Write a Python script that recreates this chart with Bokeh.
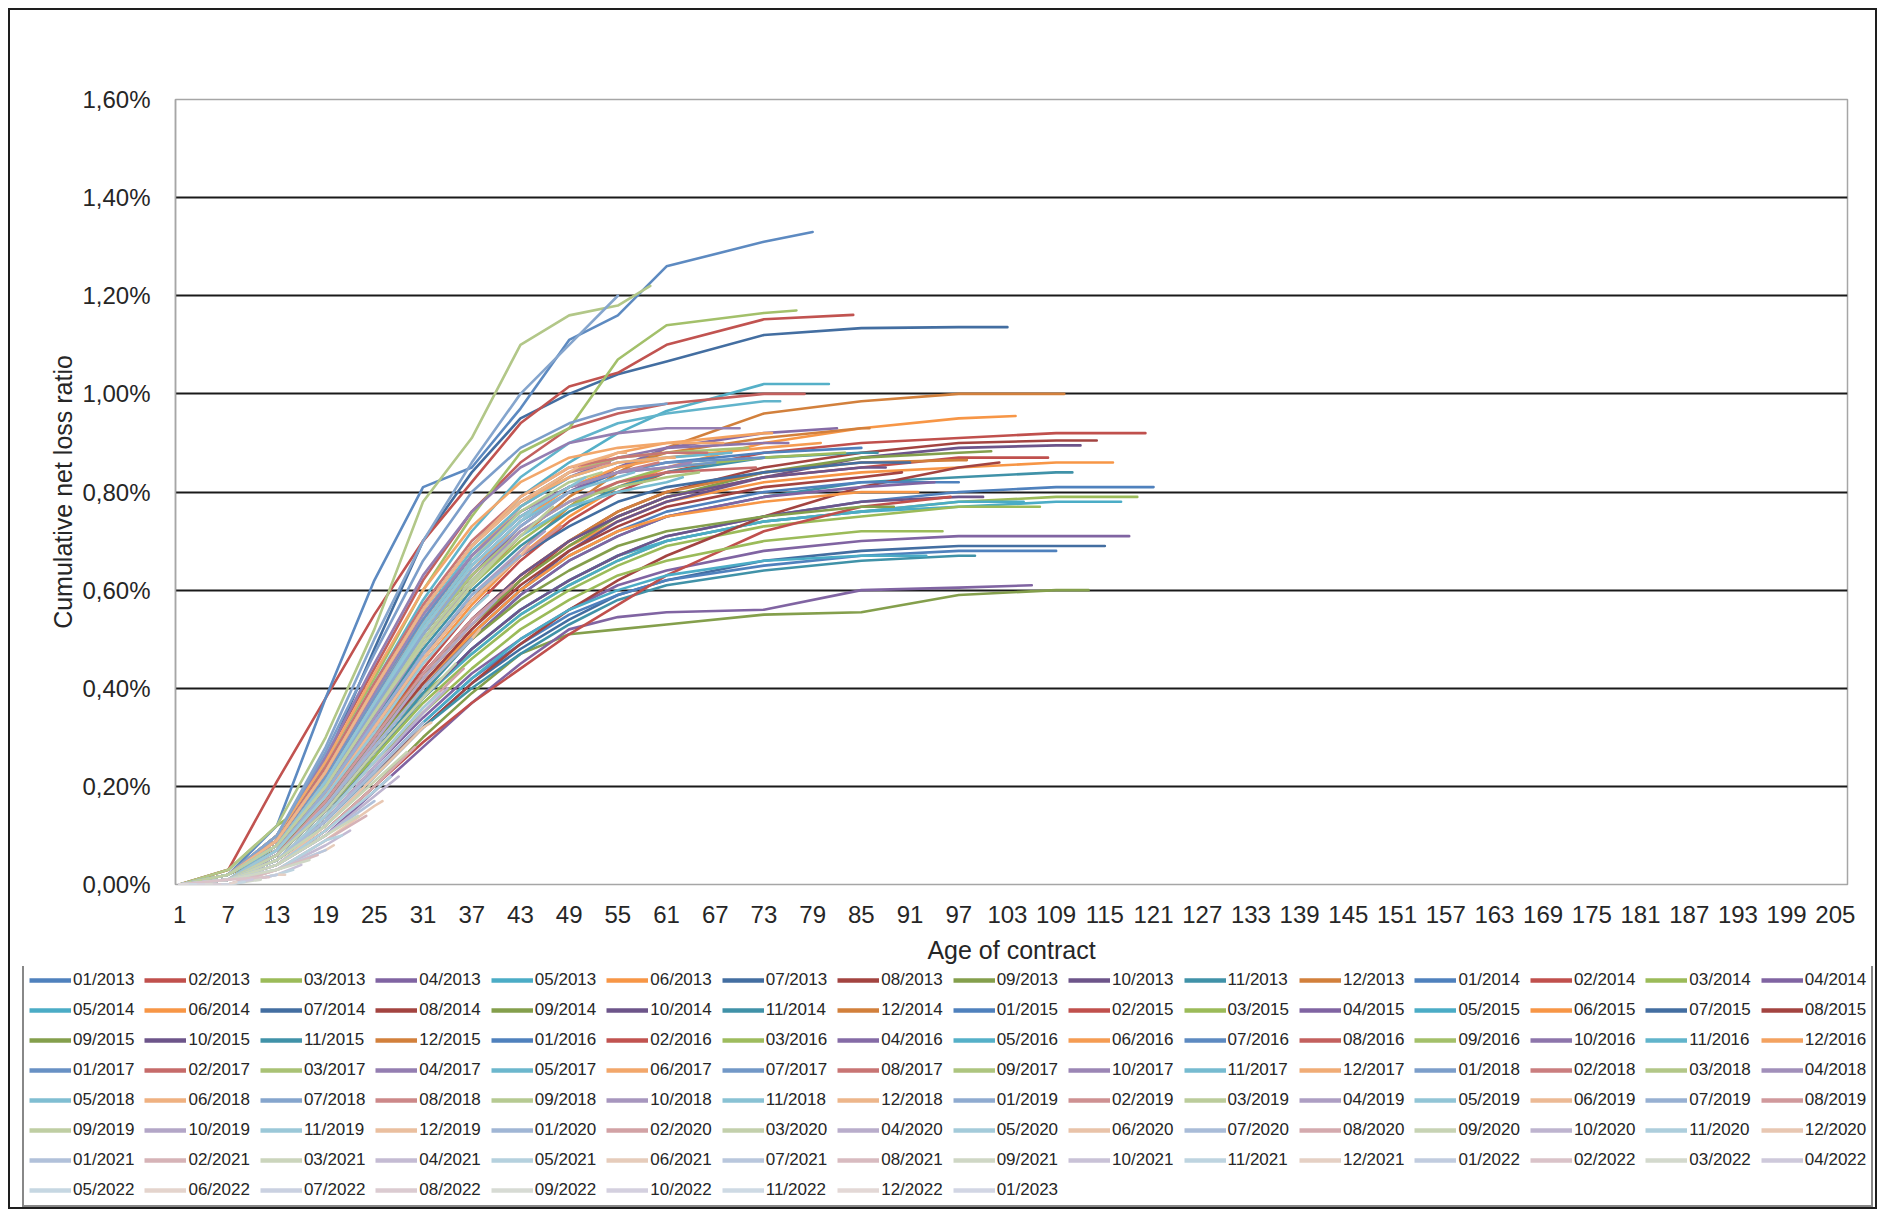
from bokeh.plotting import figure
from bokeh.layouts import column
from bokeh.models import (FixedTicker, CustomJSTickFormatter, Legend, LegendItem,
                          Range1d, ColumnDataSource)
from bokeh.embed import file_html
from bokeh.resources import INLINE

# ---------------------------------------------------------------- data
# Ages (months) at which the curves were read; every series also has a
# value at its own last observed age (oldest vintage: 121, then one less
# per later vintage).
AGE_GRID = [1, 7, 13, 19, 25, 31, 37, 43, 49, 55, 61, 73, 85, 97, 109]
OLDEST_LAST_AGE = 121
X_TICKS = list(range(1, 206, 6))
Y_TICKS = [0.0, 0.2, 0.4, 0.6, 0.8, 1.0, 1.2, 1.4, 1.6]
Y_GRID = [0.0, 0.2, 0.4, 0.6, 0.8, 1.0, 1.2, 1.4]
X_TITLE = "Age of contract"
Y_TITLE = "Cumulative net loss ratio"

# cumulative net loss ratio in %, one row per vintage month
V2013 = [
    [0, 0.01, 0.05, 0.14, 0.26, 0.38, 0.48, 0.56, 0.62, 0.67, 0.71, 0.75, 0.78, 0.80, 0.81, 0.81],
    [0, 0.02, 0.08, 0.18, 0.31, 0.44, 0.56, 0.66, 0.74, 0.80, 0.84, 0.88, 0.90, 0.91, 0.92, 0.92],
    [0, 0.03, 0.12, 0.19, 0.29, 0.39, 0.47, 0.55, 0.61, 0.66, 0.70, 0.74, 0.76, 0.78, 0.79, 0.79],
    [0, 0.01, 0.05, 0.13, 0.24, 0.34, 0.43, 0.50, 0.56, 0.61, 0.64, 0.68, 0.70, 0.71, 0.71, 0.71],
    [0, 0.01, 0.06, 0.15, 0.27, 0.38, 0.47, 0.55, 0.61, 0.66, 0.70, 0.74, 0.76, 0.77, 0.78, 0.78],
    [0, 0.02, 0.07, 0.17, 0.30, 0.42, 0.53, 0.62, 0.69, 0.74, 0.78, 0.82, 0.84, 0.85, 0.86, 0.86],
    [0, 0.01, 0.05, 0.12, 0.22, 0.32, 0.41, 0.48, 0.54, 0.59, 0.62, 0.66, 0.68, 0.69, 0.69, 0.69],
    [0, 0.02, 0.07, 0.17, 0.29, 0.41, 0.52, 0.62, 0.70, 0.76, 0.80, 0.85, 0.88, 0.90, 0.905, 0.905],
    [0, 0.01, 0.04, 0.11, 0.20, 0.30, 0.39, 0.47, 0.51, 0.52, 0.53, 0.55, 0.555, 0.59, 0.60, 0.60],
    [0, 0.01, 0.06, 0.16, 0.28, 0.40, 0.51, 0.60, 0.68, 0.74, 0.78, 0.83, 0.87, 0.89, 0.895, 0.895],
    [0, 0.01, 0.06, 0.15, 0.27, 0.39, 0.50, 0.59, 0.66, 0.71, 0.75, 0.79, 0.82, 0.83, 0.84, 0.84],
    [0, 0.02, 0.08, 0.19, 0.33, 0.46, 0.58, 0.68, 0.77, 0.84, 0.89, 0.96, 0.985, 1.00, 1.00, 1.00],
]
V2014 = [
    [0, 0.01, 0.05, 0.13, 0.23, 0.33, 0.42, 0.49, 0.55, 0.59, 0.62, 0.65, 0.67, 0.68, 0.68],
    [0, 0.02, 0.08, 0.19, 0.31, 0.43, 0.54, 0.63, 0.70, 0.75, 0.79, 0.83, 0.85, 0.87, 0.87],
    [0, 0.01, 0.06, 0.15, 0.26, 0.37, 0.46, 0.54, 0.60, 0.65, 0.69, 0.73, 0.75, 0.77, 0.77],
    [0, 0.01, 0.04, 0.10, 0.19, 0.28, 0.37, 0.45, 0.52, 0.545, 0.555, 0.56, 0.60, 0.605, 0.61],
    [0, 0.01, 0.06, 0.15, 0.27, 0.38, 0.48, 0.56, 0.62, 0.67, 0.70, 0.74, 0.76, 0.78, 0.78],
    [0, 0.02, 0.08, 0.19, 0.32, 0.45, 0.57, 0.67, 0.75, 0.81, 0.85, 0.90, 0.93, 0.95, 0.955],
    [0, 0.02, 0.09, 0.25, 0.48, 0.70, 0.84, 0.95, 1.00, 1.04, 1.066, 1.12, 1.134, 1.136, 1.136],
    [0, 0.01, 0.05, 0.13, 0.23, 0.32, 0.41, 0.49, 0.56, 0.62, 0.67, 0.75, 0.81, 0.85, 0.86],
    [0, 0.02, 0.07, 0.17, 0.30, 0.42, 0.53, 0.62, 0.69, 0.75, 0.79, 0.84, 0.87, 0.88, 0.883],
    [0, 0.01, 0.06, 0.15, 0.27, 0.38, 0.48, 0.56, 0.62, 0.67, 0.71, 0.75, 0.78, 0.79, 0.79],
    [0, 0.01, 0.05, 0.12, 0.22, 0.32, 0.40, 0.47, 0.53, 0.58, 0.61, 0.64, 0.66, 0.67, 0.67],
    [0, 0.02, 0.07, 0.18, 0.31, 0.43, 0.54, 0.63, 0.70, 0.76, 0.80, 0.84, 0.86, 0.865, 0.865],
]
V2015 = [
    [0, 0.01, 0.06, 0.16, 0.28, 0.40, 0.51, 0.60, 0.67, 0.72, 0.76, 0.80, 0.82, 0.82],
    [0, 0.01, 0.04, 0.11, 0.20, 0.29, 0.37, 0.44, 0.51, 0.57, 0.63, 0.72, 0.77, 0.79],
    [0, 0.01, 0.05, 0.14, 0.25, 0.35, 0.44, 0.52, 0.58, 0.63, 0.66, 0.70, 0.72, 0.72],
    [0, 0.01, 0.06, 0.16, 0.28, 0.40, 0.50, 0.59, 0.66, 0.71, 0.75, 0.79, 0.81, 0.82],
    [0, 0.01, 0.05, 0.13, 0.23, 0.33, 0.42, 0.50, 0.56, 0.60, 0.63, 0.66, 0.67, 0.67],
    [0, 0.02, 0.07, 0.17, 0.29, 0.41, 0.51, 0.60, 0.67, 0.72, 0.75, 0.78, 0.80, 0.80],
    [0, 0.02, 0.08, 0.20, 0.34, 0.47, 0.58, 0.67, 0.73, 0.78, 0.81, 0.84, 0.86, 0.86],
    [0, 0.01, 0.06, 0.16, 0.29, 0.41, 0.52, 0.61, 0.68, 0.73, 0.77, 0.81, 0.83, 0.84],
    [0, 0.02, 0.07, 0.17, 0.29, 0.40, 0.50, 0.58, 0.64, 0.69, 0.72, 0.75, 0.77, 0.77],
    [0, 0.01, 0.06, 0.17, 0.30, 0.43, 0.54, 0.63, 0.70, 0.75, 0.79, 0.83, 0.85, 0.85],
    [0, 0.02, 0.08, 0.20, 0.34, 0.48, 0.60, 0.69, 0.76, 0.81, 0.84, 0.87, 0.88, 0.88],
    [0, 0.02, 0.08, 0.20, 0.35, 0.49, 0.61, 0.71, 0.79, 0.85, 0.88, 0.91, 0.93, 0.93],
]
V2016 = [
    [0, 0.02, 0.09, 0.22, 0.38, 0.53, 0.65, 0.74, 0.80, 0.84, 0.86, 0.88, 0.89],
    [0, 0.03, 0.21, 0.38, 0.55, 0.70, 0.82, 0.94, 1.015, 1.043, 1.10, 1.152, 1.161],
    [0, 0.02, 0.08, 0.20, 0.35, 0.49, 0.61, 0.70, 0.77, 0.82, 0.85, 0.87, 0.88],
    [0, 0.02, 0.08, 0.21, 0.36, 0.51, 0.63, 0.73, 0.80, 0.85, 0.89, 0.92, 0.93],
    [0, 0.02, 0.09, 0.23, 0.40, 0.56, 0.69, 0.79, 0.86, 0.92, 0.965, 1.02, 1.02],
    [0, 0.02, 0.08, 0.21, 0.37, 0.52, 0.64, 0.74, 0.81, 0.85, 0.87, 0.89, 0.90],
    [0, 0.02, 0.12, 0.38, 0.62, 0.81, 0.85, 0.97, 1.11, 1.16, 1.26, 1.31, 1.33],
    [0, 0.02, 0.10, 0.26, 0.44, 0.62, 0.76, 0.86, 0.93, 0.96, 0.98, 1.00, 1.00],
    [0, 0.02, 0.10, 0.25, 0.42, 0.60, 0.75, 0.88, 0.93, 1.07, 1.14, 1.165, 1.17],
    [0, 0.02, 0.09, 0.23, 0.39, 0.54, 0.67, 0.77, 0.83, 0.87, 0.89, 0.90, 0.90],
    [0, 0.02, 0.09, 0.24, 0.41, 0.58, 0.72, 0.83, 0.90, 0.94, 0.96, 0.985, 0.985],
    [0, 0.02, 0.09, 0.22, 0.38, 0.54, 0.67, 0.77, 0.84, 0.88, 0.90, 0.92, 0.92],
]
V2017 = [
    [0, 0.02, 0.09, 0.23, 0.39, 0.54, 0.67, 0.76, 0.81, 0.84, 0.86, 0.87],
    [0, 0.02, 0.08, 0.21, 0.36, 0.51, 0.63, 0.72, 0.78, 0.82, 0.84, 0.85],
    [0, 0.02, 0.09, 0.23, 0.40, 0.56, 0.69, 0.78, 0.84, 0.87, 0.88, 0.89],
    [0, 0.02, 0.10, 0.26, 0.45, 0.63, 0.76, 0.85, 0.90, 0.92, 0.93, 0.93],
    [0, 0.02, 0.09, 0.23, 0.39, 0.55, 0.68, 0.77, 0.83, 0.86, 0.87, 0.88],
    [0, 0.02, 0.10, 0.25, 0.43, 0.60, 0.73, 0.82, 0.87, 0.89, 0.90, 0.90],
    [0, 0.02, 0.09, 0.22, 0.38, 0.53, 0.66, 0.75, 0.81, 0.84, 0.85, 0.86],
    [0, 0.02, 0.09, 0.24, 0.41, 0.57, 0.70, 0.79, 0.85, 0.87, 0.88, 0.88],
    [0, 0.02, 0.08, 0.21, 0.36, 0.51, 0.63, 0.72, 0.78, 0.81, 0.83, 0.84],
    [0, 0.02, 0.09, 0.23, 0.39, 0.55, 0.67, 0.76, 0.81, 0.84, 0.85, 0.86],
    [0, 0.01, 0.08, 0.20, 0.35, 0.50, 0.62, 0.71, 0.77, 0.80, 0.82, 0.83],
    [0, 0.02, 0.09, 0.23, 0.40, 0.56, 0.69, 0.78, 0.83, 0.86, 0.87, 0.87],
]
V2018 = [
    [0, 0.02, 0.10, 0.27, 0.47, 0.66, 0.80, 0.89, 0.94, 0.97, 0.98],
    [0, 0.02, 0.08, 0.21, 0.37, 0.53, 0.66, 0.75, 0.81, 0.84, 0.86],
    [0, 0.03, 0.12, 0.30, 0.52, 0.78, 0.91, 1.10, 1.16, 1.18, 1.22],
    [0, 0.02, 0.08, 0.21, 0.37, 0.53, 0.66, 0.75, 0.81, 0.84, 0.85],
    [0, 0.02, 0.08, 0.21, 0.36, 0.52, 0.65, 0.74, 0.80, 0.83, 0.84],
    [0, 0.02, 0.09, 0.23, 0.40, 0.56, 0.69, 0.79, 0.85, 0.88, 0.88],
    [0, 0.02, 0.10, 0.28, 0.50, 0.70, 0.86, 1.00, 1.10, 1.20],
    [0, 0.02, 0.09, 0.23, 0.40, 0.56, 0.69, 0.78, 0.84, 0.86],
    [0, 0.02, 0.08, 0.21, 0.37, 0.53, 0.66, 0.76, 0.82, 0.84],
    [0, 0.01, 0.07, 0.19, 0.34, 0.49, 0.62, 0.72, 0.78, 0.80],
    [0, 0.02, 0.08, 0.21, 0.37, 0.53, 0.66, 0.75, 0.81, 0.83],
    [0, 0.02, 0.09, 0.23, 0.40, 0.56, 0.69, 0.78, 0.84, 0.85],
]
V2019 = [
    [0, 0.02, 0.08, 0.21, 0.36, 0.51, 0.64, 0.73, 0.80],
    [0, 0.01, 0.07, 0.18, 0.32, 0.46, 0.58, 0.67, 0.73],
    [0, 0.02, 0.08, 0.20, 0.35, 0.50, 0.62, 0.71, 0.77],
    [0, 0.01, 0.07, 0.19, 0.33, 0.47, 0.59, 0.68, 0.72],
    [0, 0.02, 0.08, 0.21, 0.37, 0.52, 0.65, 0.74, 0.77],
    [0, 0.01, 0.07, 0.18, 0.32, 0.46, 0.58, 0.67, 0.69],
    [0, 0.01, 0.07, 0.19, 0.33, 0.47, 0.59, 0.67],
    [0, 0.01, 0.06, 0.17, 0.30, 0.43, 0.54, 0.61],
    [0, 0.02, 0.08, 0.20, 0.35, 0.49, 0.61, 0.68],
    [0, 0.01, 0.06, 0.16, 0.29, 0.42, 0.53, 0.58],
    [0, 0.01, 0.07, 0.18, 0.31, 0.45, 0.56, 0.59],
    [0, 0.01, 0.06, 0.16, 0.28, 0.40, 0.50, 0.52],
]
V2020 = [
    [0, 0.01, 0.06, 0.16, 0.28, 0.40, 0.50],
    [0, 0.01, 0.05, 0.14, 0.25, 0.36, 0.44],
    [0, 0.01, 0.06, 0.15, 0.27, 0.38, 0.45],
    [0, 0.01, 0.05, 0.13, 0.24, 0.35, 0.40],
    [0, 0.01, 0.05, 0.14, 0.25, 0.36, 0.39],
    [0, 0.01, 0.04, 0.12, 0.22, 0.32, 0.33],
    [0, 0.01, 0.05, 0.13, 0.23, 0.33],
    [0, 0.01, 0.04, 0.11, 0.20, 0.28],
    [0, 0.01, 0.05, 0.12, 0.21, 0.27],
    [0, 0.01, 0.04, 0.10, 0.18, 0.22],
    [0, 0.01, 0.04, 0.11, 0.19, 0.22],
    [0, 0.00, 0.03, 0.09, 0.16, 0.17],
]
V2021 = [
    [0, 0.01, 0.04, 0.10, 0.17],
    [0, 0.01, 0.03, 0.09, 0.14],
    [0, 0.01, 0.04, 0.10, 0.14],
    [0, 0.00, 0.03, 0.08, 0.11],
    [0, 0.01, 0.03, 0.09, 0.10],
    [0, 0.00, 0.03, 0.07, 0.08],
    [0, 0.01, 0.03, 0.07],
    [0, 0.00, 0.03, 0.06],
    [0, 0.01, 0.03, 0.05],
    [0, 0.00, 0.02, 0.04],
    [0, 0.00, 0.02, 0.03],
    [0, 0.00, 0.02, 0.02],
]
V2022 = [
    [0, 0.00, 0.02],
    [0, 0.01, 0.015],
    [0, 0.00, 0.01],
    [0, 0.00, 0.01],
    [0, 0.00, 0.005],
    [0, 0.00, 0.005],
    [0, 0.00],
    [0, 0.00],
    [0, 0.00],
    [0, 0.00],
    [0, 0.00],
    [0, 0.00],
]
V2023 = [
    [0],
]

SERIES = V2013 + V2014 + V2015 + V2016 + V2017 + V2018 + V2019 + V2020 + V2021 + V2022 + V2023
VINTAGES = [f"{m:02d}/{y}" for y in range(2013, 2024) for m in range(1, 13)][:len(SERIES)]

# ---------------------------------------------------------------- style
FONT = "Liberation Sans"
TEXT = "#262626"
BASE = ["#4F81BD", "#C0504D", "#9BBB59", "#8064A2", "#4BACC6", "#F79646"]


def series_color(k):
    h = BASE[k % 6]
    r, g, b = (int(h[i:i + 2], 16) for i in (1, 3, 5))
    cyc = k // 6
    dark = 0.85 if cyc in (1, 3, 5) else 1.0
    r, g, b = r * dark, g * dark, b * dark
    t = max(0.0, min(1.0, (k - 36) / 84.0))
    f = 0.9 * t ** 0.85
    tr, tg, tb = 224, 224, 232
    r = r + (tr - r) * f
    g = g + (tg - g) * f
    b = b + (tb - b) * f
    return "#%02x%02x%02x" % (int(round(r)), int(round(g)), int(round(b)))


W = 1865
p = figure(width=W, height=956, output_backend="svg", toolbar_location=None,
           x_range=Range1d(0.5, 206.5), y_range=Range1d(0, 1.6),
           min_border_left=165, min_border_right=28, min_border_top=89,
           min_border_bottom=81, background_fill_color="white",
           border_fill_color="white", title=None, frame_align=False)

p.outline_line_color = "#A6A6A6"
p.outline_line_width = 1.5

p.xgrid.grid_line_color = None
p.ygrid.ticker = FixedTicker(ticks=Y_GRID)
p.ygrid.grid_line_color = "#1a1a1a"
p.ygrid.grid_line_width = 2

# legend strip: its own figure, so the legend is not clipped by the chart's frame
lf = figure(width=W, height=241, output_backend="svg", toolbar_location=None,
            x_range=Range1d(-20, -10), y_range=Range1d(-20, -10),
            x_axis_type=None, y_axis_type=None, title=None,
            min_border_left=0, min_border_right=0, min_border_top=0,
            min_border_bottom=0, background_fill_color="white",
            border_fill_color="white", frame_align=False)
lf.outline_line_color = None

items = []
for k, vals in enumerate(SERIES):
    last_age = OLDEST_LAST_AGE - k
    xs = [a for a in AGE_GRID if a < last_age] + [last_age]
    if len(xs) != len(vals):
        raise ValueError(f"series {VINTAGES[k]}: {len(xs)} ages vs {len(vals)} values")
    col = series_color(k)
    src = ColumnDataSource(dict(age=xs, ratio=vals))
    p.line("age", "ratio", source=src, line_color=col, line_width=2.6,
           line_join="round", line_cap="round")
    # legend key: single end point (draws nothing itself, out of this strip's view)
    key_src = ColumnDataSource(dict(age=xs[-1:], ratio=vals[-1:]))
    key = lf.line("age", "ratio", source=key_src, line_color=col, line_width=4.5)
    items.append(LegendItem(label=VINTAGES[k], renderers=[key]))

# axes
p.xaxis.ticker = FixedTicker(ticks=X_TICKS)
p.yaxis.ticker = FixedTicker(ticks=Y_TICKS)
p.yaxis.formatter = CustomJSTickFormatter(
    code="return tick.toFixed(2).replace('.', ',') + '%';")
for ax in (p.xaxis[0], p.yaxis[0]):
    ax.major_tick_line_color = None
    ax.minor_tick_line_color = None
    ax.major_tick_out = 0
    ax.major_tick_in = 0
    ax.minor_tick_out = 0
    ax.minor_tick_in = 0
    ax.major_label_text_font = FONT
    ax.major_label_text_font_size = "24px"
    ax.major_label_text_color = TEXT
    ax.axis_label_text_font = FONT
    ax.axis_label_text_font_size = "25px"
    ax.axis_label_text_font_style = "normal"
    ax.axis_label_text_color = TEXT
p.xaxis.axis_line_color = None
p.yaxis.axis_line_color = "#A6A6A6"
p.yaxis.axis_line_width = 1.5
p.xaxis.axis_label = X_TITLE
p.yaxis.axis_label = Y_TITLE
p.xaxis.major_label_standoff = 21
p.xaxis.axis_label_standoff = 10
p.yaxis.major_label_standoff = 25
p.yaxis.axis_label_standoff = 2

legend = Legend(items=items, orientation="horizontal", ncols=16,
                location=(12, 0), glyph_width=42, glyph_height=20,
                label_height=20, label_standoff=2, spacing=10, padding=5, margin=0,
                label_text_font=FONT, label_text_font_size="17px",
                label_text_color=TEXT, border_line_color="#111111",
                border_line_width=2, background_fill_color="white",
                background_fill_alpha=1.0)
lf.add_layout(legend)

page = column(p, lf, spacing=0,
              styles={"border": "2px solid #1e1e1e", "margin-left": "8px",
                      "margin-top": "8px", "background-color": "white"})

open("out.html", "w").write(file_html(page, INLINE))
